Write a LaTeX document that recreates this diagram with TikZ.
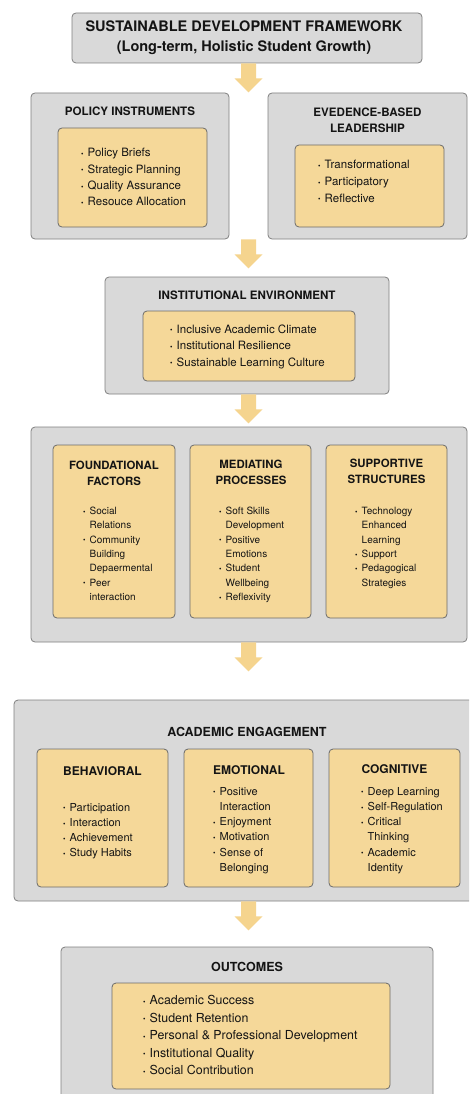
\documentclass[tikz,border=0pt]{standalone}
\usepackage{fontspec}
\setmainfont{TeX Gyre Heros}
\usetikzlibrary{fit,calc}

\definecolor{panel}{HTML}{D9D9D9}
\definecolor{panelline}{HTML}{808080}
\definecolor{card}{HTML}{F5D899}
\definecolor{cardline}{HTML}{6B6B6B}
\definecolor{flow}{HTML}{F5D48E}
\definecolor{ink}{HTML}{141414}

% bullet and hanging indent for list lines
\newcommand\bitem{\makebox[6.5pt][l]{\raisebox{0.3pt}{\fontsize{7}{7}\selectfont\textbullet}}}
\newcommand\hang{\hspace*{6.5pt}}
% stacked lines whose first baseline is the node's base
\newcommand\lrows[1]{\begin{tabular}[t]{@{}l@{}}#1\end{tabular}}
\newcommand\crows[1]{\begin{tabular}[t]{@{}c@{}}#1\end{tabular}}
% block arrow going down from a point
\newcommand\flowdown[1]{\fill[flow] (#1) ++(-7.5,0) -- ++(15,0) -- ++(0,15) -- ++(6.5,0)
  -- ++(-14,14) -- ++(-14,-14) -- ++(6.5,0) -- cycle;}

\tikzset{
  panel/.style={draw=panelline, fill=panel, line width=0.8pt, rounded corners=4pt, inner sep=0pt},
  card/.style={draw=cardline, fill=card, line width=0.8pt, rounded corners=4pt, inner sep=0pt},
  head/.style={text=ink, inner sep=0pt, anchor=base,
    font=\bfseries\fontsize{#1}{16}\selectfont},
  items/.style 2 args={text=ink, inner sep=0pt, anchor=base west, font=\fontsize{#1}{#2}\selectfont},
}

\begin{document}
\begin{tikzpicture}[x=1pt,y=-1pt]
\useasboundingbox (0,0) rectangle (469,1094);
\fill[white] (0,0) rectangle (469,1094);
\clip (0,0) rectangle (469,1094);
\coordinate (axis) at (248.5,0);

% framework title
\node[panel, fit={(72,13) (422,63)}] (frame) {};
\node[text=ink, inner sep=0pt, anchor=base, font=\bfseries\fontsize{14.5}{20}\selectfont]
  (frameT) at (244,32) {\crows{SUSTAINABLE DEVELOPMENT FRAMEWORK\\(Long-term, Holistic Student Growth)}};

% policy instruments
\node[panel, fit={(31,93) (229,239)}] (pol) {};
\node[head=11.6] (polT) at (130,116) {POLICY INSTRUMENTS};
\node[card, fit={(58,128) (207,227)}] (polC) {};
\node[items={11.5}{16.3}] (polL) at (81,157) {\lrows{\bitem Policy Briefs\\\bitem Strategic Planning\\\bitem Quality Assurance\\\bitem Resouce Allocation}};

% evidence-based leadership
\node[panel, fit={(268,93) (467,239)}] (evi) {};
\node[head=11.6] (eviT) at (367.5,117) {\crows{EVEDENCE-BASED\\LEADERSHIP}};
\node[card, fit={(295,145) (444,227)}] (eviC) {};
\node[items={11.5}{16.5}] (eviL) at (318,169) {\lrows{\bitem Transformational\\\bitem Participatory\\\bitem Reflective}};

% institutional environment
\node[panel, fit={(105,277) (389,394)}] (inst) {};
\node[head=11.6] (instT) at (247,299) {INSTITUTIONAL ENVIRONMENT};
\node[card, fit={(143,311) (355,381)}] (instC) {};
\node[items={11.5}{16.5}] (instL) at (170,333) {\lrows{\bitem Inclusive Academic Climate\\\bitem Institutional Resilience\\\bitem Sustainable Learning Culture}};

% factors, processes, structures
\node[panel, fit={(31,427) (467,642)}] (mid) {};
\node[card, fit={(53,445) (175,618)}] (fnd) {};
\node[card, fit={(190,445) (311,618)}] (med) {};
\node[card, fit={(326,445) (447,618)}] (sup) {};
\node[head=11.4] (fndT) at (114,469) {\crows{FOUNDATIONAL\\FACTORS}};
\node[head=11.4] (medT) at (251,468) {\crows{MEDIATING\\PROCESSES}};
\node[head=11.4] (supT) at (386.5,467) {\crows{SUPPORTIVE\\STRUCTURES}};
\node[items={10}{14.3}] (fndL) at (83,514.5) {\lrows{\bitem Social\\\hang Relations\\\bitem Community\\\hang Building\\\hang Depaermental\\\bitem Peer\\\hang interaction}};
\node[items={10}{14.3}] (medL) at (219,514.5) {\lrows{\bitem Soft Skills\\\hang Development\\\bitem Positive\\\hang Emotions\\\bitem Student\\\hang Wellbeing\\\bitem Reflexivity}};
\node[items={10}{14.3}] (supL) at (355,514.5) {\lrows{\bitem Technology\\\hang Enhanced\\\hang Learning\\\bitem Support\\\bitem Pedagogical\\\hang Strategies}};

% academic engagement
\node[panel, fit={(14,700) (480,901)}] (eng) {};
\node[head=12.5] (engT) at (247,736.5) {ACADEMIC ENGAGEMENT};
\node[card, fit={(37,749) (168,887)}] (beh) {};
\node[card, fit={(184,749) (313,887)}] (emo) {};
\node[card, fit={(329,749) (460,887)}] (cog) {};
\node[head=12] (behT) at (102.5,775.5) {BEHAVIORAL};
\node[head=12] (emoT) at (249,774.5) {EMOTIONAL};
\node[head=12] (cogT) at (394.5,773.5) {COGNITIVE};
\node[items={11}{15.3}] (behL) at (63,811) {\lrows{\bitem Participation\\\bitem Interaction\\\bitem Achievement\\\bitem Study Habits}};
\node[items={11}{15.3}] (emoL) at (213,795) {\lrows{\bitem Positive\\\hang Interaction\\\bitem Enjoyment\\\bitem Motivation\\\bitem Sense of\\\hang Belonging}};
\node[items={11}{15.3}] (cogL) at (361,795) {\lrows{\bitem Deep Learning\\\bitem Self-Regulation\\\bitem Critical\\\hang Thinking\\\bitem Academic\\\hang Identity}};

% outcomes
\node[panel, fit={(61,947) (433,1110)}] (out) {};
\node[head=12.5] (outT) at (247,971.5) {OUTCOMES};
\node[card, fit={(112,983) (390,1089)}] (outC) {};
\node[items={12.4}{17.5}] (outL) at (143,1004.5) {\lrows{\bitem Academic Success\\\bitem Student Retention\\\bitem Personal \& Professional Development\\\bitem Institutional Quality\\\bitem Social Contribution}};

% flow arrows between stages
\flowdown{axis |- frame.south}
\flowdown{axis |- pol.south}
\flowdown{axis |- inst.south}
\flowdown{axis |- mid.south}
\flowdown{axis |- eng.south}
\end{tikzpicture}
\end{document}
